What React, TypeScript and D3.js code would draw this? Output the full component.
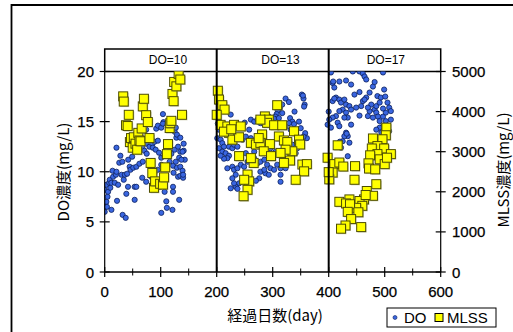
import React from "react";
import * as d3 from "d3";

// ---- data ----
const xTicksMajor = [0, 100, 200, 300, 400, 500, 600];
const xTicksMinor = [50, 150, 250, 350, 450, 550];
const yLeftTicks = [0, 5, 10, 15, 20];
const yRightTicks = [0, 1000, 2000, 3000, 4000, 5000];
const phaseLabels = ["DO=10", "DO=13", "DO=17"];
const phaseLabelDays = [113, 314, 502];
const phaseBounds = [0, 200, 400, 600];

const doPhase1: [number, number][] = [
  [0, 6.0], [0, 8.2], [1, 6.5], [3, 7.0], [3, 8.7], [4, 6.5], [5, 7.5], [6, 8.0], [8, 8.9], [9, 9.2],
  [10, 8.4], [12, 6.2], [12, 8.9], [14, 10.1], [15, 9.5], [18, 8.9], [20, 9.7], [21, 10.0], [21, 12.4], [22, 7.1],
  [24, 8.7], [26, 10.9], [28, 11.6], [30, 9.7], [31.5, 11.0], [32, 5.7], [34, 9.2], [36, 9.7], [37.5, 5.4], [38.6, 7.8],
  [40, 9.8], [42, 11.2], [41.6, 8.5], [44.6, 10.5], [46, 10.2], [49, 11.5], [51, 10.4], [53.5, 8.5], [53.5, 7.2], [56.5, 12.1],
  [56.5, 10.5], [56.5, 8.5], [61, 12.2], [62, 10.8], [67, 12.4], [67, 9.4], [68, 11.0], [71, 12.1], [74, 12.8], [74, 9.0],
  [75, 11.8], [80, 12.5], [83, 9.5], [85, 12.8], [86, 12.4], [89, 13.0], [89, 9.9], [91, 12.2], [92, 14.3], [95, 14.6],
  [95, 13.1], [95, 10.2], [97, 11.9], [99, 8.5], [101, 14.4], [101, 11.4], [101, 10.7], [101, 5.9], [104, 15.75], [104, 8.9],
  [105, 14.95], [107, 11.6], [107, 8.0], [110, 10.5], [110, 7.05], [111, 6.4], [115, 12.0], [116, 11.0], [119, 11.8], [121, 6.2],
  [122, 14.95], [122, 10.6], [122, 8.5], [122, 8.0], [123, 9.9], [125, 14.0], [125, 12.2], [127, 14.4], [127, 11.0], [128, 13.4],
  [129, 13.7], [129, 10.4], [131, 12.5], [131, 9.5], [133, 11.4], [133, 7.2], [135, 13.4], [135, 12.0], [135, 10.5], [135, 9.6],
  [139, 10.1], [140, 9.4], [140, 9.7], [141, 12.1], [143, 11.2], [139, 12.0], [141, 12.8], [137, 11.2],
  [74, 14.2], [73, 13.3], [83, 13.3], [104, 14.8], [113, 14.2],
];

const doPhase2: [number, number][] = [
  [352, 17.7], [355, 17.3], [357, 16.7], [323, 17.3], [329, 16.95], [317, 16.7], [313, 16.35], [309, 16.1], [307, 15.75], [305, 15.5],
  [302.5, 15.3], [311, 15.35], [317, 15.85], [339, 16.0], [347, 15.0], [331, 15.35], [335, 15.0], [338, 14.75], [329, 14.85], [323, 14.5],
  [261, 15.2], [267, 15.0], [273, 15.2], [278, 14.85], [285, 14.7], [293, 15.5], [296, 15.35], [299, 15.0], [358, 13.85], [361, 13.35],
  [355, 13.5], [225, 15.7], [204, 14.2], [201, 13.35], [207, 13.2], [210, 12.85], [213, 12.5], [204, 12.35], [210, 12.0], [216, 11.85],
  [222, 11.6], [219, 11.35], [213, 11.3], [207, 11.6], [222, 12.5], [228, 12.35], [231, 12.7], [237, 12.5], [234, 13.5], [240, 13.35],
  [246, 13.2], [252, 13.5], [258, 14.2], [261, 13.35], [219, 10.35], [228, 10.5], [231, 10.2], [237, 10.35], [234, 9.7], [243, 10.7],
  [249, 10.5], [255, 11.0], [261, 11.2], [267, 11.35], [273, 10.85], [278, 11.0], [285, 11.2], [290, 10.7], [296, 10.35], [302.5, 10.2],
  [308, 10.7], [314, 10.35], [323, 10.85], [332, 11.2], [278, 10.0], [287, 9.85], [293, 9.7], [285, 10.2], [276, 9.35], [270, 9.1],
  [261, 8.85], [255, 8.7], [246, 9.2], [240, 8.85], [234, 8.5], [231, 8.85], [228, 9.35], [225, 8.35], [237, 8.3], [314, 9.7],
  [314, 9.0], [323, 10.35], [341, 11.85], [344, 12.35], [335, 12.7], [341, 13.85], [332, 14.2], [350, 14.35], [273, 12.85], [285, 12.7],
  [296, 12.35], [305, 12.0], [252, 11.85], [267, 12.0], [202, 14.8], [205, 15.0], [243, 14.5], [250, 14.9], [354, 17.6], [356, 16.5],
];

const doPhase3: [number, number][] = [
  [404, 19.9], [443, 20.0], [455, 20.0], [461, 19.8], [464, 19.5], [467, 19.2], [497, 19.9], [407, 18.85], [419, 19.0], [431, 19.1],
  [440, 18.7], [410, 18.4], [446, 17.7], [455, 17.95], [473, 17.9], [479, 18.5], [482, 18.95], [499, 18.2], [487, 17.55], [493, 17.4],
  [501, 17.5], [505, 16.9], [467, 17.4], [461, 17.05], [458, 16.55], [449, 16.4], [413, 17.4], [419, 17.2], [407, 17.05], [422, 16.9],
  [428, 17.2], [431, 16.7], [437, 16.55], [440, 16.2], [425, 16.2], [419, 16.05], [431, 15.9], [434, 15.4], [428, 15.4], [413, 15.55],
  [407, 15.4], [401, 15.2], [398, 14.7], [404, 14.4], [416, 14.9], [419, 14.55], [440, 14.7], [455, 15.6], [470, 15.55], [473, 16.05],
  [482, 16.2], [485, 15.9], [488, 15.5], [479, 15.4], [491, 15.05], [497, 15.5], [502, 15.9], [508, 16.4], [511, 16.05], [511, 15.2],
  [502, 15.05], [497, 14.55], [491, 14.4], [485, 14.2], [505, 14.6], [508, 14.05], [431, 13.9], [434, 13.55], [428, 13.55], [437, 12.9],
  [425, 13.05], [422, 12.4], [434, 11.55], [410, 17.3], [485, 16.55], [491, 16.9], [476, 16.7], [464, 17.2], [470, 16.4], [497, 16.3],
  [494, 13.9], [499, 14.2], [420, 13.0], [432, 13.8], [408, 19.0], [400, 16.0],
];

const mlssPhase1: [number, number][] = [
  [33, 4380], [34, 4250], [38, 3660], [41, 3640], [43, 3920], [45, 3240], [47, 3340], [50, 3100], [52, 3360], [55, 3200],
  [58, 3050], [60, 3470], [62, 3280], [64, 3260], [66, 3580], [68, 4130], [70, 4320], [74, 3910], [77, 3740], [80, 3340],
  [82, 2720], [85, 2470], [88, 2100], [90, 2260], [99, 2200], [104, 2180], [106, 2360], [108, 2610], [111, 2940], [113, 3190],
  [116, 3590], [117, 3710], [119, 3770], [121, 4440], [123, 4260], [124, 4740], [128, 4630], [132, 4940], [135, 4800], [138, 3920],
];

const mlssPhase2: [number, number][] = [
  [202, 4520], [204, 4300], [210, 4160], [214, 4050], [200, 3920], [207, 3670], [219, 3630], [231, 3670], [243, 3630], [222, 3470],
  [228, 3300], [240, 3360], [308, 4160], [286, 3880], [293, 3800], [290, 3720], [278, 3800], [302.5, 3660], [317, 3660], [338, 3510],
  [311, 3380], [320, 3280], [326, 3240], [347, 3300], [349, 3180], [335, 3010], [323, 3050], [314, 2970], [331, 2780], [320, 2720],
  [281, 3430], [261, 3220], [270, 3180], [278, 3220], [295, 3190], [284, 3010], [297, 2890], [266, 2720], [261, 2840], [240, 2890],
  [353, 2680], [361, 2690], [356, 2510], [341, 2300], [255, 2430], [258, 2260], [249, 2300], [255, 2050], [248, 1890], [275, 3340],
  [213, 3500], [226, 3560],
];

const mlssPhase3: [number, number][] = [
  [503, 3600], [502, 3410], [496, 3310], [479, 3330], [487, 3140], [477, 3080], [499, 3080], [511, 2940], [487, 2940], [474, 2910],
  [491, 2810], [500, 2690], [504, 2850], [471, 2710], [472, 2580], [483, 2560], [416, 3160], [398, 2850], [410, 2690], [419, 2730],
  [426, 2630], [447, 2640], [407, 2480], [401, 2310], [446, 2300], [485, 2190], [468, 2020], [479, 1900], [463, 1810], [455, 1770],
  [460, 1650], [449, 1600], [437, 1810], [419, 1750], [431, 1710], [438, 1690], [434, 1500], [453, 1490], [440, 1320], [430, 1160],
  [422, 1080], [458, 1120], [466, 1920], [400, 2490],
];

// ---- layout ----
const W = 513;
const H = 332;
const x = d3.scaleLinear().domain([0, 600]).range([104.7, 440.7]);
const yL = d3.scaleLinear().domain([0, 20]).range([272, 71.5]);
const yR = d3.scaleLinear().domain([0, 5000]).range([272, 71.5]);
const headerTop = 49;

const FONT = "'Liberation Sans', Arial, 'Noto Sans CJK JP', sans-serif";
const CJK = "'Noto Sans CJK JP', 'Liberation Sans', sans-serif";

const DOT_FILL = "#3a66e0";
const DOT_STROKE = "#0b1f5c";
const SQ_FILL = "#ffff00";
const SQ_STROKE = "#4d4d00";

export default function App() {
  const [x0, x1] = x.range();
  const yTop = yL(20);
  const yBot = yL(0);
  const allDO = [...doPhase1, ...doPhase2, ...doPhase3];
  const allMLSS = [...mlssPhase1, ...mlssPhase2, ...mlssPhase3];
  const sq = 9;
  return (
    <svg width={W} height={H} style={{ position: "absolute", left: 0, top: 0, background: "#fff" }}>
      <defs>
        <clipPath id="plotclip">
          <rect x={x0} y={yTop} width={x1 - x0} height={yBot - yTop} />
        </clipPath>
      </defs>
      {/* outer frame */}
      <path d={`M11.5,${H} L11.5,5 L${W},5`} fill="none" stroke="#000" strokeWidth={1.8} />

      {/* header boxes */}
      <rect x={x0} y={headerTop} width={x1 - x0} height={yTop - headerTop} fill="#fff" stroke="#000" strokeWidth={1.5} />
      {phaseLabels.map((t, i) => (
        <text key={t} x={x(phaseLabelDays[i])} y={64} textAnchor="middle" fontFamily={FONT} fontSize={12}>
          {t}
        </text>
      ))}

      {/* points */}
      <g clipPath="url(#plotclip)">
        {allDO.map(([d, v], i) => (
          <circle key={"d" + i} cx={x(d)} cy={yL(v)} r={2.6} fill={DOT_FILL} stroke={DOT_STROKE} strokeWidth={0.8} />
        ))}
        {allMLSS.map(([d, v], i) => (
          <g key={"m" + i}>
            <rect x={x(d) - sq / 2 + 1} y={yR(v) - sq / 2 + 1} width={sq} height={sq} fill="#9a9a60" opacity={0.5} />
            <rect x={x(d) - sq / 2} y={yR(v) - sq / 2} width={sq} height={sq} fill={SQ_FILL} stroke={SQ_STROKE} strokeWidth={1} />
          </g>
        ))}
      </g>

      {/* phase dividers */}
      {phaseBounds.slice(1, 3).map((b) => (
        <line key={b} x1={x(b)} x2={x(b)} y1={headerTop} y2={yBot} stroke="#000" strokeWidth={2} />
      ))}

      {/* axes */}
      <line x1={x0} x2={x0} y1={yTop} y2={yBot} stroke="#000" strokeWidth={1.2} />
      <line x1={x1} x2={x1} y1={yTop} y2={yBot} stroke="#000" strokeWidth={1.2} />
      <line x1={x0} x2={x1} y1={yBot} y2={yBot} stroke="#000" strokeWidth={1.5} />

      {xTicksMajor.map((t) => (
        <g key={"xt" + t}>
          <line x1={x(t)} x2={x(t)} y1={yBot - 5} y2={yBot + 5} stroke="#000" strokeWidth={1.2} />
          <text x={x(t)} y={297} textAnchor="middle" fontFamily={FONT} fontSize={15} stroke="#000" strokeWidth={0.25}>
            {t}
          </text>
        </g>
      ))}
      {xTicksMinor.map((t) => (
        <line key={"xm" + t} x1={x(t)} x2={x(t)} y1={yBot - 3.5} y2={yBot + 3.5} stroke="#000" strokeWidth={1} />
      ))}
      {yLeftTicks.map((t) => (
        <g key={"yl" + t}>
          <line x1={x0 - 5} x2={x0 + 5} y1={yL(t)} y2={yL(t)} stroke="#000" strokeWidth={1.2} />
          <text x={94} y={yL(t) + 5.5} textAnchor="end" fontFamily={FONT} fontSize={15} stroke="#000" strokeWidth={0.25}>
            {t}
          </text>
        </g>
      ))}
      {yRightTicks.map((t) => (
        <g key={"yr" + t}>
          <line x1={x1 - 5} x2={x1 + 5} y1={yR(t)} y2={yR(t)} stroke="#000" strokeWidth={1.2} />
          <text x={452} y={yR(t) + 5.5} textAnchor="start" fontFamily={FONT} fontSize={15} stroke="#000" strokeWidth={0.25}>
            {t}
          </text>
        </g>
      ))}

      {/* axis titles */}
      <text transform="translate(69,172) rotate(-90)" textAnchor="middle" fontFamily={CJK} fontSize={15}>
        DO濃度(mg/L)
      </text>
      <text transform="translate(509,170) rotate(-90)" textAnchor="middle" fontFamily={CJK} fontSize={15}>
        MLSS濃度(mg/L)
      </text>
      <text x={275} y={321} textAnchor="middle" fontFamily={CJK} fontSize={15}>
        経過日数(day)
      </text>

      {/* legend */}
      <rect x={387} y={308} width={109} height={19} fill="#fff" stroke="#000" strokeWidth={1} />
      <circle cx={395} cy={317.5} r={2} fill={DOT_FILL} stroke={DOT_STROKE} strokeWidth={0.6} />
      <text x={404} y={323} fontFamily={FONT} fontSize={15}>DO</text>
      <rect x={435} y={313.5} width={8} height={8} fill={SQ_FILL} stroke="#000" strokeWidth={1} />
      <text x={447} y={323} fontFamily={FONT} fontSize={15}>MLSS</text>
    </svg>
  );
}
